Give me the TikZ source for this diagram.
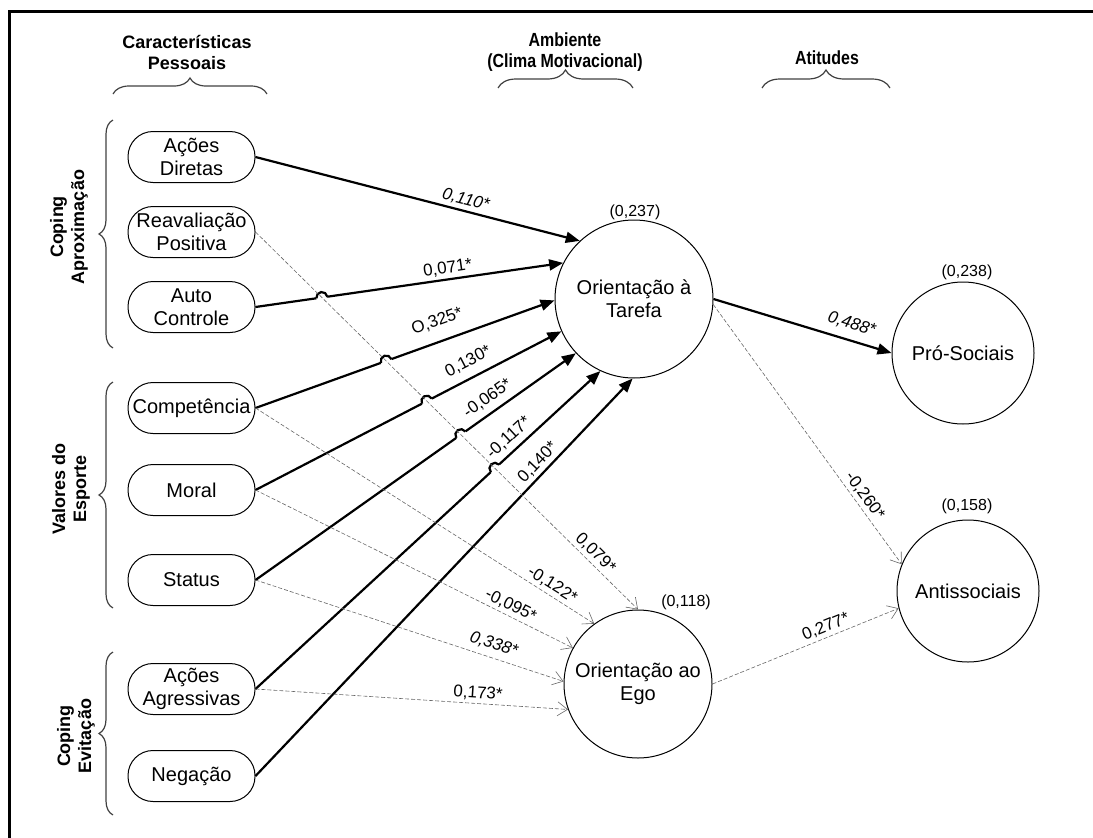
\documentclass[tikz,border=0pt]{standalone}
\usepackage{fontspec}
\setmainfont{Liberation Sans}
\newfontfamily\narrowsans[FakeStretch=0.84]{Liberation Sans}
\usepackage{tikz}
\usetikzlibrary{arrows.meta, positioning, calc, intersections, decorations.pathreplacing}
\tikzset{
  fator/.style={draw, line width=1pt, rounded corners=25pt, minimum width=127pt, minimum height=51pt, inner sep=0pt, align=center, font=\fontsize{20}{23}\selectfont},
  latente/.style={draw, circle, line width=1pt, inner sep=0pt, align=center, font=\fontsize{20}{23}\selectfont},
  forte/.style={line width=2.2pt, -{Triangle[length=14pt,width=11pt]}},
  fraco/.style={draw=black!60, line width=0.6pt, dash pattern=on 4pt off 2pt, -{Straight Barb[length=10pt,width=14pt]}},
  coef/.style={sloped, above=3pt, inner sep=0pt, font=\fontsize{17}{19}\selectfont},
  r2/.style={font=\fontsize{16}{18}\selectfont},
  chave/.style={decorate, decoration={brace, amplitude=#1}, draw=black!75, line width=1.2pt},
  chave/.default=15pt,
  grupo/.style={align=center, font=\fontsize{18}{21}\selectfont\bfseries},
  grupoestreito/.style={align=center, font=\fontsize{19}{21}\selectfont\narrowsans\bfseries}
}
% salto de linha onde o caminho tracejado cruza uma seta cheia
\newcommand{\saltolinha}[3]{%
  \path[name intersections={of=reavpath and #1, by=s#1}];
  \draw[white, line width=5pt] let \p1=($(#3)-(#2)$), \n1={atan2(\y1,\x1)} in
    ($(s#1)+(\n1:5.5pt)$) -- ($(s#1)+(\n1+180:5.5pt)$);
  \draw[line width=2.2pt] let \p1=($(#3)-(#2)$), \n1={atan2(\y1,\x1)} in
    ($(s#1)+(\n1+180:5.5pt)$) arc[start angle=\n1+180, end angle=\n1, radius=5.5pt];
}

\begin{document}
\begin{tikzpicture}[x=1pt, y=-1pt]
\useasboundingbox (0,0) rectangle (1093,838);
\draw[line width=3pt] (9.5,838) -- (9.5,11.5) -- (1093,11.5);

% cabecalhos
\node[grupo] (carac) at (187,52) {Características\\Pessoais};
\node[grupoestreito] (ambiente) at (565,52) {Ambiente\\(Clima Motivacional)};
\node[grupoestreito] (atitudes) at (827,58) {Atitudes};
\draw[chave=16pt] (113,94) -- (267,94);
\draw[chave=18pt] (498,88) -- (633,88);
\draw[chave=18pt] (762,88) -- (890,88);

% grupos da esquerda
\node[grupo, rotate=90] (aprox) at (69,227) {Coping\\Aproximação};
\node[grupo, rotate=90] (valores) at (71,489) {Valores do\\Esporte};
\node[grupo, rotate=90] (evit) at (76,736) {Coping\\Evitação};
\draw[chave=14pt] (113,348) -- (113,120);
\draw[chave=14pt] (113,608) -- (113,382);
\draw[chave=14pt] (113,815) -- (113,652);

% caracteristicas pessoais
\node[fator] (diretas) at (191.5,157) {Ações\\Diretas};
\node[fator] (reav) at (191.5,232) {Reavaliação\\Positiva};
\node[fator] (auto) at (191.5,307) {Auto\\Controle};
\node[fator] (comp) at (191.5,408) {Competência};
\node[fator] (moral) at (191.5,490) {Moral};
\node[fator] (status) at (191.5,580) {Status};
\node[fator] (agress) at (191.5,689) {Ações\\Agressivas};
\node[fator] (negacao) at (191.5,776) {Negação};

% variaveis latentes
\node[latente, minimum size=158pt] (tarefa) at (634,299) {Orientação à\\Tarefa};
\node[latente, minimum size=148pt] (ego) at (638,684) {Orientação ao\\Ego};
\node[latente, minimum size=142pt] (pro) at (963,353) {Pró-Sociais};
\node[latente, minimum size=142pt] (anti) at (968,591) {Antissociais};
\node[r2] (r2tarefa) at (635,212) {(0,237)};
\node[r2] (r2ego) at (686,602) {(0,118)};
\node[r2] (r2pro) at (967,272) {(0,238)};
\node[r2] (r2anti) at (967,506) {(0,158)};

% caminhos para a tarefa
\path[name path=reavpath] (reav.east) -- (ego.north);
\draw[forte] (diretas.east) -- node[coef, pos=0.64] {\itshape 0,110*} (tarefa.133);
\draw[forte, name path=cauto] (auto.east) -- node[coef, pos=0.63] {0,071*} (tarefa.153);
\draw[forte, name path=ccomp] (comp.east) -- node[coef, pos=0.63, above=12pt] {O,325*} (tarefa.181);
\draw[forte, name path=cmoral] (moral.east) -- node[coef, pos=0.72, above=8pt] {0,130*} (tarefa.204);
\draw[forte, name path=cstatus] (status.east) -- node[coef, pos=0.75, above=6pt] {-0,065*} (tarefa.223);
\draw[forte, name path=cagress] (agress.east) -- node[coef, pos=0.76, above=5pt] {-0,117*} (tarefa.245);
\draw[forte] (negacao.east) -- node[coef, pos=0.77] {0,140*} (tarefa.269);
\saltolinha{cauto}{auto.east}{tarefa.153}
\saltolinha{ccomp}{comp.east}{tarefa.181}
\saltolinha{cmoral}{moral.east}{tarefa.204}
\saltolinha{cstatus}{status.east}{tarefa.223}
\saltolinha{cagress}{agress.east}{tarefa.245}

% caminhos para o ego
\draw[fraco] (reav.east) -- node[coef, pos=0.87] {0,079*} (ego.north);
\draw[fraco] (comp.east) -- node[coef, pos=0.86] {-0,122*} (ego.126);
\draw[fraco] (moral.east) -- node[coef, pos=0.79] {-0,095*} (ego.151);
\draw[fraco] (status.east) -- node[coef, pos=0.76, above=6pt] {\itshape 0,338*} (ego.178);
\draw[fraco] (agress.east) -- node[coef, pos=0.71] {0,173*} (ego.200);

% atitudes
\draw[forte] (tarefa.east) -- node[coef, pos=0.75, above=8pt] {\itshape 0,488*} (pro.west);
\draw[fraco] (tarefa.356) -- node[coef, pos=0.76] {-0,260*} (anti.158);
\draw[fraco] (ego.east) -- node[coef, pos=0.63] {0,277*} (anti.194);
\end{tikzpicture}
\end{document}
